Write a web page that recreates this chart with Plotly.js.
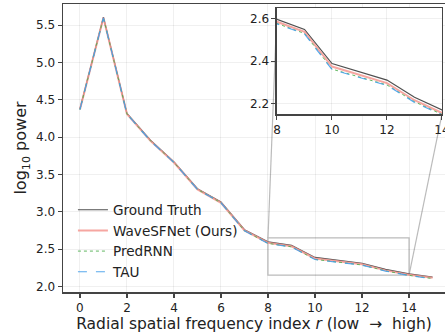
<!DOCTYPE html>
<html>
<head>
<meta charset="utf-8">
<script src="https://cdn.plot.ly/plotly-3.0.1.min.js"></script>
<style>html,body{margin:0;padding:0;background:#fff;}#chart{width:445px;height:333px;}</style>
</head>
<body>
<div id="chart"></div>
<script>
// Data
const radialIndex = [0,1,2,3,4,5,6,7,8,9,10,11,12,13,14,15];
const groundTruth = [4.38,5.61,4.32,3.96,3.67,3.31,3.13,2.76,2.597,2.549,2.388,2.350,2.310,2.229,2.169,2.125];
const waveSFNet   = [4.37,5.60,4.31,3.95,3.66,3.30,3.12,2.75,2.585,2.538,2.374,2.335,2.296,2.215,2.155,2.115];
const predRNN     = [4.37,5.60,4.31,3.95,3.66,3.30,3.12,2.745,2.577,2.530,2.362,2.325,2.287,2.208,2.148,2.105];
const tau         = [4.37,5.60,4.31,3.95,3.66,3.30,3.12,2.745,2.575,2.528,2.360,2.323,2.285,2.205,2.146,2.100];
const seriesNames = ["Ground Truth","WaveSFNet (Ours)","PredRNN","TAU"];
const xTickVals = [0,2,4,6,8,10,12,14];
const insetXTicks = [8,10,12,14];
const insetYTicks = [2.2,2.4,2.6];

const mainX = [-0.72, 15.53];
const mainY = [1.925, 5.785];
const zoomX = [8, 14];
const zoomY = [2.15, 2.65];
const insetDomX = [0.5602, 0.9921];
const insetDomY = [0.618, 0.986];

const styles = [
  {color:'rgba(70,70,70,0.95)', width:1.2, dash:'solid'},
  {color:'rgba(244,150,145,0.85)', width:2, dash:'solid'},
  {color:'rgba(80,175,80,0.9)', width:1, dash:'dot'},
  {color:'rgba(70,160,235,0.9)', width:1.2, dash:'dash'}
];
const series = [groundTruth, waveSFNet, predRNN, tau];

const traces = [];
series.forEach((ys,i)=>{
  traces.push({x:radialIndex, y:ys, type:'scatter', mode:'lines', name:seriesNames[i],
    line:styles[i], xaxis:'x', yaxis:'y', hoverinfo:'skip'});
});
series.forEach((ys,i)=>{
  traces.push({x:radialIndex, y:ys, type:'scatter', mode:'lines', name:seriesNames[i],
    line:styles[i], xaxis:'x2', yaxis:'y2', showlegend:false, hoverinfo:'skip'});
});

function px(v){ return (v-mainX[0])/(mainX[1]-mainX[0]); }
function py(v){ return (v-mainY[0])/(mainY[1]-mainY[0]); }

const font = {family:'DejaVu Sans', size:12, color:'#222'};
const grid = 'rgba(0,0,0,0.06)';
const spine = '#444';

const layout = {
  width:445, height:333,
  margin:{l:63, r:0, t:4, b:41},
  paper_bgcolor:'#fff', plot_bgcolor:'#fff',
  font:font,
  showlegend:true,
  legend:{x:0.026, y:0.016, xanchor:'left', yanchor:'bottom', bgcolor:'rgba(0,0,0,0)',
    font:{family:'DejaVu Sans', size:13.6, color:'#222'}, tracegroupgap:0},
  xaxis:{range:mainX, tickvals:xTickVals, ticks:'outside', ticklen:4, tickwidth:1.2, tickcolor:spine,
    showline:true, mirror:true, linecolor:spine, linewidth:1.5, showgrid:true, gridcolor:grid, zeroline:false,
    tickfont:{family:'DejaVu Sans', size:12, color:'#222'},
    title:{text:'Radial spatial frequency index <i>r</i> (low \u00a0\u2192\u00a0 high)', font:{family:'DejaVu Sans', size:15.5, color:'#222'}, standoff:2}},
  yaxis:{range:mainY, dtick:0.5, tick0:0, tickformat:'.1f', ticks:'outside', ticklen:4, tickwidth:1.2, tickcolor:spine,
    showline:true, linecolor:spine, linewidth:1.5, showgrid:true, gridcolor:grid, zeroline:false,
    tickfont:{family:'DejaVu Sans', size:12, color:'#222'},
    title:{text:'log<sub>10</sub> power', font:{family:'DejaVu Sans', size:16, color:'#222'}, standoff:5}},
  xaxis2:{domain:insetDomX, anchor:'y2', range:zoomX, tickvals:insetXTicks, ticks:'outside', ticklen:4, tickcolor:spine,
    showline:true, mirror:true, linecolor:spine, linewidth:1.5, showgrid:true, gridcolor:grid, zeroline:false,
    ticklabeloverflow:'allow',
    tickfont:{family:'DejaVu Sans', size:12, color:'#222'}},
  yaxis2:{domain:insetDomY, anchor:'x2', range:zoomY, tickvals:insetYTicks, tickformat:'.1f', ticks:'outside', ticklen:4, tickcolor:spine,
    showline:true, mirror:true, linecolor:spine, linewidth:1.5, showgrid:true, gridcolor:grid, zeroline:false,
    tickfont:{family:'DejaVu Sans', size:12, color:'#222'}},
  shapes:[
    {type:'rect', xref:'x2', yref:'y2', x0:zoomX[0], x1:zoomX[1], y0:zoomY[0], y1:zoomY[1],
      fillcolor:'#fff', line:{width:0}, layer:'below'},
    {type:'rect', xref:'x', yref:'y', x0:zoomX[0], x1:zoomX[1], y0:zoomY[0], y1:zoomY[1],
      fillcolor:'rgba(0,0,0,0)', line:{color:'#bbbbbb', width:1.2}, layer:'below'},
    {type:'line', xref:'paper', yref:'paper', x0:px(zoomX[0]), y0:py(zoomY[1]), x1:insetDomX[0], y1:insetDomY[1],
      line:{color:'#bbbbbb', width:1.2}, layer:'below'},
    {type:'line', xref:'paper', yref:'paper', x0:px(zoomX[1]), y0:py(zoomY[0]), x1:insetDomX[1], y1:insetDomY[0],
      line:{color:'#bbbbbb', width:1.2}, layer:'below'}
  ]
};

Plotly.newPlot('chart', traces, layout, {displayModeBar:false, staticPlot:true});
</script>
</body>
</html>
